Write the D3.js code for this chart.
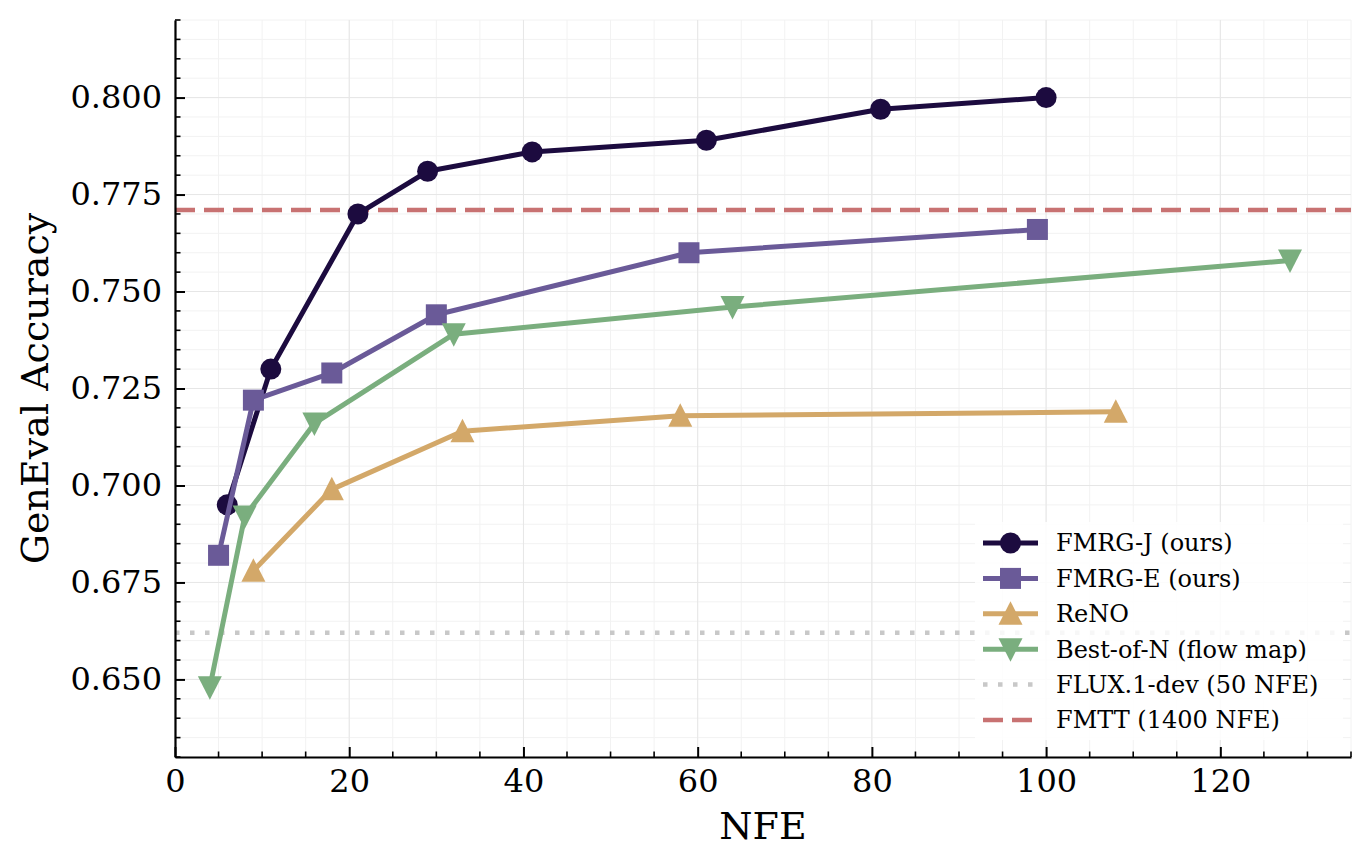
<!DOCTYPE html>
<html>
<head>
<meta charset="utf-8">
<script src="https://cdn.jsdelivr.net/npm/d3@7"></script>
<style>
  body { margin: 0; background: #fff; }
  svg text { font-family: "DejaVu Serif", serif; fill: #000; }
</style>
</head>
<body>
<svg id="drawing_region"></svg>
<script>
// data
const fmrgJ_nfe = [6, 11, 21, 29, 41, 61, 81, 100];
const fmrgJ_acc = [0.695, 0.730, 0.770, 0.781, 0.786, 0.789, 0.797, 0.800];
const fmrgE_nfe = [5, 9, 18, 30, 59, 99];
const fmrgE_acc = [0.682, 0.722, 0.729, 0.744, 0.760, 0.766];
const reno_nfe = [9, 18, 33, 58, 108];
const reno_acc = [0.678, 0.699, 0.714, 0.718, 0.719];
const bon_nfe = [4, 8, 16, 32, 64, 128];
const bon_acc = [0.648, 0.692, 0.716, 0.739, 0.746, 0.758];
const flux_acc = 0.662;
const fmtt_acc = 0.771;
const x_ticks = [0, 20, 40, 60, 80, 100, 120];
const y_ticks = [0.650, 0.675, 0.700, 0.725, 0.750, 0.775, 0.800];

const series = [
    {name: 'FMRG-J (ours)', nfe: fmrgJ_nfe, acc: fmrgJ_acc, color: '#1c0b3f', marker: 'circle'},
    {name: 'FMRG-E (ours)', nfe: fmrgE_nfe, acc: fmrgE_acc, color: '#6a5a98', marker: 'square'},
    {name: 'ReNO', nfe: reno_nfe, acc: reno_acc, color: '#d3a869', marker: 'up'},
    {name: 'Best-of-N (flow map)', nfe: bon_nfe, acc: bon_acc, color: '#7aae7e', marker: 'down'}
];
const refs = [
    {name: 'FLUX.1-dev (50 NFE)', acc: flux_acc, color: '#c8c8c8', dash: '4.5 10.5'},
    {name: 'FMTT (1400 NFE)', acc: fmtt_acc, color: '#c87272', dash: '20 9'}
];

const W = 1370, H = 867;
const margin = {top: 20, right: 19, bottom: 110, left: 175};
const iw = W - margin.left - margin.right;
const ih = H - margin.top - margin.bottom;

const svg = d3.select('#drawing_region').attr('width', W).attr('height', H);
const chart = svg.append('g').attr('transform', `translate(${margin.left}, ${margin.top})`);

const xscale = d3.scaleLinear().domain([0, 135]).range([0, iw]);
const yscale = d3.scaleLinear().domain([0.630, 0.820]).range([ih, 0]);

// grid (minor then major)
const xminor = d3.range(0, 136, 5);
const yminor = d3.range(0, 39).map(i => 0.630 + i * 0.005);
const grid = chart.append('g');
grid.selectAll('.vminor').data(xminor).enter().append('line')
    .attr('x1', d => xscale(d)).attr('x2', d => xscale(d))
    .attr('y1', 0).attr('y2', ih)
    .attr('stroke', '#f2f2f2').attr('stroke-width', 1);
grid.selectAll('.hminor').data(yminor).enter().append('line')
    .attr('y1', d => yscale(d)).attr('y2', d => yscale(d))
    .attr('x1', 0).attr('x2', iw)
    .attr('stroke', '#f2f2f2').attr('stroke-width', 1);
grid.selectAll('.vmajor').data(x_ticks).enter().append('line')
    .attr('x1', d => xscale(d)).attr('x2', d => xscale(d))
    .attr('y1', 0).attr('y2', ih)
    .attr('stroke', '#e6e6e6').attr('stroke-width', 1);
grid.selectAll('.hmajor').data(y_ticks).enter().append('line')
    .attr('y1', d => yscale(d)).attr('y2', d => yscale(d))
    .attr('x1', 0).attr('x2', iw)
    .attr('stroke', '#e6e6e6').attr('stroke-width', 1);

// reference lines
chart.selectAll('.ref').data(refs).enter().append('line')
    .attr('x1', 0).attr('x2', iw)
    .attr('y1', d => yscale(d.acc)).attr('y2', d => yscale(d.acc))
    .attr('stroke', d => d.color).attr('stroke-width', 4.5)
    .attr('stroke-dasharray', d => d.dash);

// series lines + markers
const line = d3.line().x(d => xscale(d[0])).y(d => yscale(d[1]));

function drawMarker(g, type, color) {
    if (type === 'circle') {
        g.append('circle').attr('r', 10.5).attr('fill', color);
    } else if (type === 'square') {
        g.append('rect').attr('x', -10.5).attr('y', -10.5).attr('width', 21).attr('height', 21).attr('fill', color);
    } else if (type === 'up') {
        g.append('path').attr('d', 'M0,-12.5L12,11L-12,11Z').attr('fill', color);
    } else {
        g.append('path').attr('d', 'M0,12.5L12,-11L-12,-11Z').attr('fill', color);
    }
}

series.forEach(s => {
    const pts = s.nfe.map((n, i) => [n, s.acc[i]]);
    chart.append('path').datum(pts)
        .attr('d', line)
        .attr('fill', 'none')
        .attr('stroke', s.color)
        .attr('stroke-width', 5)
        .attr('stroke-linejoin', 'round');
    pts.forEach(p => {
        const g = chart.append('g').attr('transform', `translate(${xscale(p[0])}, ${yscale(p[1])})`);
        drawMarker(g, s.marker, s.color);
    });
});

// axes (ticks inward)
const xaxis = d3.axisBottom(xscale).tickValues(x_ticks).tickFormat(d3.format('d'))
    .tickSize(-10).tickSizeOuter(0).tickPadding(12);
const yaxis = d3.axisLeft(yscale).tickValues(y_ticks).tickFormat(d3.format('.3f'))
    .tickSize(-10).tickSizeOuter(0).tickPadding(13);

const xg = chart.append('g').attr('transform', `translate(0, ${ih})`).call(xaxis);
const yg = chart.append('g').call(yaxis);
[xg, yg].forEach(g => {
    g.select('.domain').attr('stroke', '#000').attr('stroke-width', 2.2);
    g.selectAll('.tick line').attr('stroke', '#000').attr('stroke-width', 2);
    g.selectAll('.tick text').style('font-size', '32px').attr('fill', '#000');
});

// minor ticks
chart.append('g').selectAll('line').data(xminor.filter(d => d % 20 !== 0)).enter().append('line')
    .attr('x1', d => xscale(d)).attr('x2', d => xscale(d))
    .attr('y1', ih).attr('y2', ih - 5.5)
    .attr('stroke', '#000').attr('stroke-width', 1.6);
chart.append('g').selectAll('line').data(yminor.filter(d => Math.abs(Math.round(d / 0.025) * 0.025 - d) > 1e-6)).enter().append('line')
    .attr('y1', d => yscale(d)).attr('y2', d => yscale(d))
    .attr('x1', 0).attr('x2', 5.5)
    .attr('stroke', '#000').attr('stroke-width', 1.6);

// axis labels
svg.append('text').attr('x', margin.left + xscale(67.5)).attr('y', 839)
    .attr('text-anchor', 'middle').style('font-size', '38px').text('NFE');
svg.append('text')
    .attr('transform', `translate(48, ${margin.top + yscale(0.725)}) rotate(-90)`)
    .attr('text-anchor', 'middle').style('font-size', '38px').text('GenEval Accuracy');

// legend
const items = series.map(s => ({name: s.name, color: s.color, marker: s.marker}))
    .concat(refs.map(r => ({name: r.name, color: r.color, dash: r.dash})));
const legend = svg.append('g').attr('transform', 'translate(975, 522)');
legend.append('rect').attr('width', 368).attr('height', 218)
    .attr('fill', '#fff').attr('fill-opacity', 0.85);
items.forEach((it, i) => {
    const cy = 21 + i * 35.4;
    legend.append('line').attr('x1', 8).attr('x2', 63).attr('y1', cy).attr('y2', cy)
        .attr('stroke', it.color).attr('stroke-width', it.marker ? 5 : 4.5)
        .attr('stroke-dasharray', it.dash || null);
    if (it.marker) {
        const g = legend.append('g').attr('transform', `translate(35.5, ${cy})`);
        drawMarker(g, it.marker, it.color);
    }
    legend.append('text').attr('x', 81).attr('y', cy).attr('dy', '0.35em')
        .style('font-size', '24px').text(it.name);
});
</script>
</body>
</html>
